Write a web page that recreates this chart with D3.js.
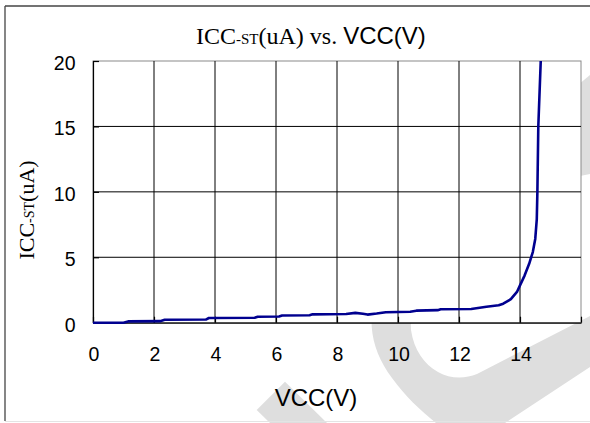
<!DOCTYPE html>
<html><head><meta charset="utf-8">
<script src="https://cdn.jsdelivr.net/npm/d3@7"></script>
<style>body{margin:0;background:#fff}svg{display:block}</style>
</head><body><svg id="c" width="590" height="423"></svg>
<script>
// ---- data ----
const vcc = [0, 1.0, 1.15, 2.2, 2.35, 3.7, 3.8, 5.3, 5.4, 6.1, 6.2, 7.1, 7.2, 8.3, 8.6, 8.85, 9.0, 9.3, 9.6, 10.4, 10.6, 11.3, 11.4, 12.4, 12.9, 13.3, 13.45, 13.7, 13.9, 14.0, 14.15, 14.3, 14.42, 14.5, 14.55, 14.57, 14.6, 14.68];
const icc = [0, 0, 0.1, 0.12, 0.22, 0.24, 0.36, 0.38, 0.46, 0.47, 0.55, 0.57, 0.64, 0.66, 0.75, 0.68, 0.62, 0.7, 0.8, 0.84, 0.92, 0.96, 1.03, 1.05, 1.22, 1.33, 1.45, 1.8, 2.35, 2.85, 3.6, 4.5, 5.4, 6.4, 7.9, 10, 15, 20];
const xTickLabels = [0, 2, 4, 6, 8, 10, 12, 14];
const xGridValues = [2, 4, 6, 8, 10, 12, 14];
const yTickLabels = [0, 5, 10, 15, 20];
const yGridValues = [5, 10, 15];

const svg = d3.select("#c");
const L = 93, R = 581, T = 61, B = 322.7;
const x = d3.scaleLinear().domain([0, 16]).range([L, R]);
const y = d3.scaleLinear().domain([0, 20]).range([B, T]);

// watermark shapes (background decoration)
const wm = "#dedede";
svg.append("path").attr("fill", wm).attr("d",
  "M371,300 L371.7,326.7 C373,345 380,362 392,378 C405,396 420,410 436,423 L505,423 L590,367 L590,316 L477,374 C465,379 450,379 438,372 C424,364 414,350 411,330 L410,300 Z");
svg.append("path").attr("fill", wm).attr("d", "M590,75 L560,100 L560,180 L590,174 Z");
svg.append("path").attr("fill", wm).attr("d", "M256.7,410 L285,381.7 L327,423 L270,423 Z");

// outer frame
svg.append("line").attr("x1", 5).attr("x2", 5).attr("y1", 6).attr("y2", 421).attr("stroke", "#444").attr("stroke-width", 1.3);
svg.append("line").attr("x1", 5).attr("x2", 590).attr("y1", 6).attr("y2", 6).attr("stroke", "#444").attr("stroke-width", 1.3);
svg.append("line").attr("x1", 5).attr("x2", 590).attr("y1", 421.5).attr("y2", 421.5).attr("stroke", "#e4e4e4").attr("stroke-width", 1);

// plot area
svg.append("rect").attr("x", L).attr("y", T).attr("width", R - L).attr("height", B - T).attr("fill", "#fff").attr("stroke", "#8a8a8a").attr("stroke-width", 1);

// gridlines
const g = svg.append("g");
g.selectAll(".vg").data(xGridValues).enter().append("line")
  .attr("x1", d => x(d)).attr("x2", d => x(d)).attr("y1", T).attr("y2", B)
  .attr("stroke", "#000").attr("stroke-width", 1);
g.selectAll(".hg").data(yGridValues).enter().append("line")
  .attr("x1", L).attr("x2", R).attr("y1", d => y(d)).attr("y2", d => y(d))
  .attr("stroke", "#000").attr("stroke-width", 1);

// axes
const xAxis = d3.axisBottom(x).tickValues([0, 2, 4, 6, 8, 10, 12, 14, 16]).tickSizeInner(-6).tickSizeOuter(0).tickFormat("");
const ax = svg.append("g").attr("transform", `translate(0,${B})`).call(xAxis);
const yAxis = d3.axisLeft(y).tickValues(yTickLabels).tickSizeInner(-6).tickSizeOuter(0).tickFormat("");
const ay = svg.append("g").attr("transform", `translate(${L},0)`).call(yAxis);
[ax, ay].forEach(a => { a.selectAll("path,line").attr("stroke", "#000").attr("stroke-width", 1.2); });

// tick labels
svg.selectAll(".xl").data(xTickLabels).enter().append("text")
  .attr("x", d => x(d) + 1).attr("y", 361).attr("text-anchor", "middle")
  .attr("font-family", "Liberation Sans, Arial, sans-serif").attr("font-size", 19.5).attr("fill", "#000")
  .text(d => d);
svg.selectAll(".yl").data(yTickLabels).enter().append("text")
  .attr("x", 75.5).attr("y", d => y(d) + 2).attr("dy", "0.36em").attr("text-anchor", "end")
  .attr("font-family", "Liberation Sans, Arial, sans-serif").attr("font-size", 19.5).attr("fill", "#000")
  .text(d => d);

// data line
svg.append("clipPath").attr("id", "pc").append("rect").attr("x", L).attr("y", T - 2).attr("width", R - L).attr("height", B - T + 4);
const pts = vcc.map((v, i) => [v, icc[i]]);
svg.append("path").datum(pts).attr("clip-path", "url(#pc)")
  .attr("fill", "none").attr("stroke", "#00008f").attr("stroke-width", 2.6).attr("stroke-linejoin", "round")
  .attr("d", d3.line().x(d => x(d[0])).y(d => y(d[1])));

// title
const serif = "Liberation Serif, Times New Roman, serif";
const sans = "Liberation Sans, Arial, sans-serif";
const t = svg.append("text").attr("x", 196).attr("y", 44).attr("fill", "#000");
t.append("tspan").attr("font-family", serif).attr("font-size", 24).text("ICC");
t.append("tspan").attr("font-family", serif).attr("font-size", 15).text("-ST");
t.append("tspan").attr("font-family", serif).attr("font-size", 24).text("(uA) vs. ");
t.append("tspan").attr("font-family", sans).attr("font-size", 24).text("VCC(V)");

// y axis title
const yt = svg.append("text").attr("transform", "translate(34,210) rotate(-90)").attr("text-anchor", "middle").attr("fill", "#000");
yt.append("tspan").attr("font-family", serif).attr("font-size", 22).text("ICC");
yt.append("tspan").attr("font-family", serif).attr("font-size", 14).text("-ST");
yt.append("tspan").attr("font-family", serif).attr("font-size", 22).text("(uA)");

// x axis title
svg.append("text").attr("x", 316).attr("y", 406).attr("text-anchor", "middle")
  .attr("font-family", sans).attr("font-size", 24).attr("fill", "#000").text("VCC(V)");
</script>
</body></html>
